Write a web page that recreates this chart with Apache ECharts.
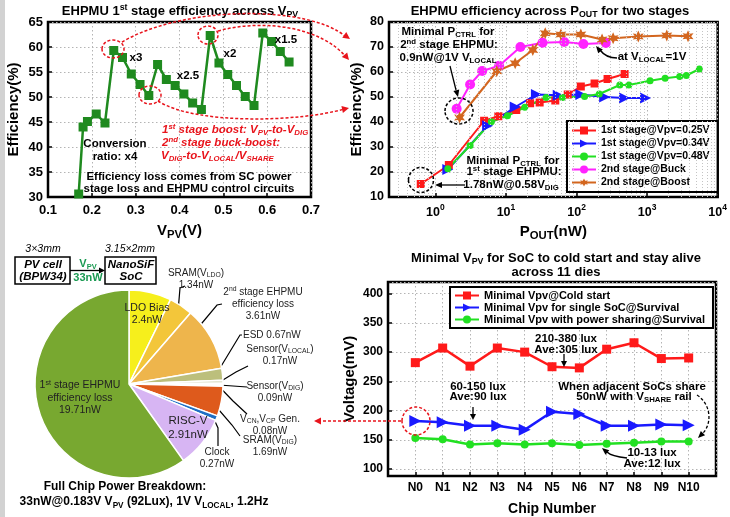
<!DOCTYPE html>
<html><head><meta charset="utf-8">
<script src="https://cdn.jsdelivr.net/npm/echarts@6/dist/echarts.min.js"></script>
<style>html,body{margin:0;padding:0;background:#fff}#c{width:730px;height:517px}</style>
</head><body><div id="c"></div>
<script>
// ---------------- DATA ----------------
// Panel 1: EHPMU 1st stage efficiency across VPV
const vpv  = [0.17,0.18,0.19,0.21,0.23,0.25,0.27,0.29,0.31,0.33,0.35,0.37,0.39,0.41,0.43,0.45,0.47,0.49,0.51,0.53,0.55,0.57,0.59,0.61,0.63,0.65];
const eff1 = [30.6,44,45.1,46.6,44.8,59.3,57.9,54.6,52.5,50.3,56.5,53.5,52.3,50.6,48.8,47.5,62.3,56.8,54.5,52.3,50.1,48.3,62.8,61.1,59.1,57];
const p1XTicks = [0.1,0.2,0.3,0.4,0.5,0.6,0.7];

// Panel 2: EHPMU efficiency across POUT
const pRed   = [0.62,1.55,4.9,7.8,14,22,30,50,75,115,180,275,480];
const eRed   = [15.2,22.8,40.5,42.3,44.8,47.5,47.8,48.6,51,54.2,55.4,57.2,59.2];
const pBlue  = [1.5,5.5,13.5,27,55,115,250,480,950];
const eBlue  = [21,38.5,46,51,50.7,51,50,49.6,49.6];
const pGreen = [1.5,3.1,6.2,10.5,18.5,37,63,130,210,410,550,1100,1800,2900,3600,5500];
const eGreen = [21.3,30.6,40.1,42.5,45.9,49.8,49.8,50.2,51.2,54.8,54.8,56.5,57.5,58.2,58.6,61.2];
const pBuck  = [2.0,3.1,4.6,8,16,33,67,125,260];
const eBuck  = [45.3,55,60.4,62.5,70,71.7,72,71.2,71.6];
const pBoost = [2.2,7.4,13.5,24,36,60,115,230,330,750,1900,3800];
const eBoost = [41.8,60.3,63.5,68.8,75.5,75,75,73,73.5,74.2,74.6,74.3];
const p2Names = ['1st stage@Vpv=0.25V','1st stage@Vpv=0.34V','1st stage@Vpv=0.48V','2nd stage@Buck','2nd stage@Boost'];

// Panel 3: power breakdown pie (nW)
const pieNames  = ['LDO Bias','SRAM(V{s|LDO})','2{p|nd} stage EHPMU\nefficiency loss','ESD','Sensor(V{s|LOCAL})','Sensor(V{s|DIG})','V{s|CN},V{s|CP} Gen.','SRAM(V{s|DIG})','Clock','RISC-V','1{p|st} stage EHPMU\nefficiency loss'];
const pieValues = [2.4,1.34,3.61,0.67,0.17,0.09,0.08,1.69,0.27,2.91,19.71];
const pieColors = ['#f6ef1c','#f3c63a','#eeb54c','#bcbf7c','#d9dcc4','#ececec','#f7f7f7','#de5a1c','#1e6fc4','#d7b5f3','#78a830'];

// Panel 4: minimal VPV across 11 dies
const chips      = ['N0','N1','N2','N3','N4','N5','N6','N7','N8','N9','N10'];
const coldStart  = [282,307,276,307,300,275,273,305,316,289,290];
const singleSoC  = [182,180,174,174,167,198,194,174,174,176,175];
const powerShare = [153,151,142,144,142,144,141,143,145,147,147];
const p4Names = ['Minimal Vpv@Cold start','Minimal Vpv for single SoC@Survival','Minimal Vpv with power sharing@Survival'];

// ---------------- HELPERS ----------------
const F = '"Liberation Sans", Arial, Helvetica, sans-serif';
function wrapPlain(s) {
  return s.split(/(\{[a-z]+\|[^}]*\})/).map(part => {
    if (!part) return '';
    if (/^\{[a-z]+\|/.test(part)) return part;
    return part.split('\n').map(l => l ? '{n|' + l + '}' : '').join('\n');
  }).join('');
}
function erich(size, color, weight, lh, ratio) {
  const sm = Math.round(size * (ratio || 0.68) * 10) / 10;
  return {
    n: {fontSize: size, fontWeight: weight, color, fontFamily: F, lineHeight: lh, verticalAlign: 'middle'},
    s: {fontSize: sm, fontWeight: weight, color, fontFamily: F, verticalAlign: 'bottom'},
    p: {fontSize: sm, fontWeight: weight, color, fontFamily: F, verticalAlign: 'top'}
  };
}
function T(x, y, s, o) {
  o = o || {};
  const size = o.size || 11.5, weight = o.weight || 'bold', color = o.color || '#000';
  const ital = o.italic ? 'italic ' : '';
  const small = Math.round(size * 0.68 * 10) / 10;
  const font = ital + weight + ' ' + size + 'px ' + F;
  const sfont = ital + weight + ' ' + small + 'px ' + F;
  return {type: 'text', x, y, silent: true, z: 100,
    style: {text: wrapPlain(s), font, fill: color, align: o.align || 'center', verticalAlign: 'middle',
      textAlign: o.align || 'center', textVerticalAlign: 'middle',
      rich: {n: {font, fill: color, verticalAlign: 'middle', lineHeight: size + 3},
             s: {font: sfont, fill: color, verticalAlign: 'bottom'},
             p: {font: sfont, fill: color, verticalAlign: 'top'}}}};
}
function L(points, color, w, dash) {
  return {type: 'polyline', silent: true, z: 100, shape: {points},
    style: {stroke: color || '#000', lineWidth: w || 1.3, fill: null, lineDash: dash || null}};
}
function B(x1, y1, c1x, c1y, c2x, c2y, x2, y2, color, w, dash) {
  return {type: 'bezierCurve', silent: true, z: 100,
    shape: {x1, y1, cpx1: c1x, cpy1: c1y, cpx2: c2x, cpy2: c2y, x2, y2},
    style: {stroke: color, lineWidth: w || 1.5, fill: null, lineDash: dash || null}};
}
function H(x, y, angDeg, color, len, wid) {
  const a = angDeg * Math.PI / 180, l = len || 7, w = wid || 3.5;
  const bx = x - l * Math.cos(a), by = y - l * Math.sin(a);
  const px = -Math.sin(a) * w, py = Math.cos(a) * w;
  return {type: 'polygon', silent: true, z: 100,
    shape: {points: [[x, y], [bx + px, by + py], [bx - px, by - py]]}, style: {fill: color}};
}
function E(cx, cy, rx, ry, color) {
  return {type: 'ellipse', silent: true, z: 100, shape: {cx, cy, rx, ry},
    style: {fill: null, stroke: color, lineWidth: 1.5, lineDash: [3, 2]}};
}
function R(x, y, w, h) {
  return {type: 'rect', silent: true, z: 100, shape: {x, y, width: w, height: h},
    style: {fill: null, stroke: '#000', lineWidth: 1.5}};
}
// 6-point star symbol
const starPts = [];
for (let k = 0; k < 12; k++) {
  const a = (-90 + k * 30) * Math.PI / 180, r = k % 2 ? 5 : 10;
  starPts.push((10 + r * Math.cos(a)).toFixed(2) + ' ' + (10 + r * Math.sin(a)).toFixed(2));
}
const STAR = 'path://M' + starPts.join(' L') + ' Z';

function axis(o) {
  const size = o.labelSize || 13;
  const base = {
    gridIndex: o.grid, type: o.type || 'value', min: o.min, max: o.max,
    axisLine: {show: true, onZero: false, lineStyle: {color: '#000', width: 2}},
    axisTick: {show: true, inside: true, length: 4, lineStyle: {color: '#000', width: 1.5}},
    axisLabel: {color: '#000', fontWeight: 'bold', fontSize: size, fontFamily: F, margin: o.margin || 6,
      rich: erich(size, '#000', 'bold', size + 6)},
    splitLine: {show: true, lineStyle: {color: '#b4b4b4', type: [1.5, 2.5], width: 1}},
    name: o.name, nameLocation: 'middle', nameGap: o.nameGap,
    nameTextStyle: {color: '#000', fontWeight: 'bold', fontSize: o.nameSize || 15, fontFamily: F,
      rich: erich(o.nameSize || 15, '#000', 'bold', 18, 0.75)}
  };
  if (o.interval != null) base.interval = o.interval;
  if (o.formatter) base.axisLabel.formatter = o.formatter;
  if (o.logBase) base.logBase = o.logBase;
  return base;
}

// minor log grid positions for panel 2
const minorX = [];
for (let d = -1; d <= 3; d++) for (let m = 2; m <= 9; m++) {
  const v = m * Math.pow(10, d);
  if (v > 0.22 && v < 10000) minorX.push({xAxis: v});
}

// pie label placement (layout, not data)
const pieLabelPos = [[147,314,'center'],[196,279,'center'],[263,304,'center'],[243,335,'left'],[280,355,'center'],
  [275,392,'center'],[270,425,'center'],[270,446,'center'],[217,458,'center'],[188,428,'center'],[80,398,'center']];
const pieLeaders = [null,[[178,312],[180,288],[185,286]],[[197,329],[217,305],[222,304]],[[217,373],[240,335],[242,335]],
  [[218,383],[236,372],[248,366]],[[219,385],[233,386],[247,387]],[[219,386.5],[233,401],[247,414]],
  [[213,403],[232,425],[240,436]],[[213,417],[218,428],[218,446]],null,null];
const pieInside = [true,false,false,false,false,false,false,false,false,true,true];

const pie = {
  type: 'pie', center: [129, 384], radius: 94, startAngle: 90, clockwise: true,
  avoidLabelOverlap: false, silent: true,
  itemStyle: {borderColor: '#fff', borderWidth: 1.5},
  label: {show: true, position: 'outside', color: '#222', fontSize: 10, fontFamily: F,
    formatter: p => wrapPlain(p.name + (p.name === 'ESD' ? ' ' : '\n') + p.value + 'nW'),
    rich: erich(10, '#222', 'normal', 12)},
  labelLine: {show: true, lineStyle: {color: '#000', width: 1.2}},
  labelLayout: params => {
    const i = params.dataIndex, p = pieLabelPos[i];
    const r = {x: p[0], y: p[1], align: p[2], verticalAlign: 'middle'};
    if (pieLeaders[i]) r.labelLinePoints = pieLeaders[i];
    return r;
  },
  data: pieNames.map((n, i) => {
    const d = {name: n, value: pieValues[i], itemStyle: {color: pieColors[i]}};
    if (pieInside[i]) {
      d.labelLine = {show: false};
      const sz = i === 9 ? 11.5 : 10.5;
      d.label = {fontSize: sz, rich: erich(sz, '#222', 'normal', sz + 2)};
    }
    return d;
  })
};

const RED = '#ff1a1a', BLUE = '#1a1aff', GRN = '#22e022', MAG = '#ff22ff', ORG = '#d3661f';
function xy(xs, ys) { return xs.map((x, i) => [x, ys[i]]); }

const series = [
  {type: 'line', xAxisIndex: 0, yAxisIndex: 0, data: xy(vpv, eff1), symbol: 'rect', symbolSize: 9,
   itemStyle: {color: '#1f8a1f'}, lineStyle: {color: '#1f8a1f', width: 2.5}},
  {type: 'line', name: p2Names[0], xAxisIndex: 1, yAxisIndex: 1, data: xy(pRed, eRed), symbol: 'rect', symbolSize: 8,
   itemStyle: {color: RED}, lineStyle: {color: RED, width: 2},
   markLine: {silent: true, symbol: 'none', label: {show: false}, animation: false,
     lineStyle: {color: '#c4c4c4', type: [1, 2], width: 1}, data: minorX}},
  {type: 'line', name: p2Names[1], xAxisIndex: 1, yAxisIndex: 1, data: xy(pBlue, eBlue), symbol: 'triangle', symbolSize: 11, symbolRotate: -90,
   itemStyle: {color: BLUE}, lineStyle: {color: BLUE, width: 2}},
  {type: 'line', name: p2Names[2], xAxisIndex: 1, yAxisIndex: 1, data: xy(pGreen, eGreen), symbol: 'circle', symbolSize: 7,
   itemStyle: {color: GRN}, lineStyle: {color: GRN, width: 2}},
  {type: 'line', name: p2Names[3], xAxisIndex: 1, yAxisIndex: 1, data: xy(pBuck, eBuck), symbol: 'circle', symbolSize: 10,
   itemStyle: {color: MAG}, lineStyle: {color: MAG, width: 2}},
  {type: 'line', name: p2Names[4], xAxisIndex: 1, yAxisIndex: 1, data: xy(pBoost, eBoost), symbol: STAR, symbolSize: [11, 12],
   itemStyle: {color: ORG}, lineStyle: {color: ORG, width: 2}},
  {type: 'line', name: p4Names[0], xAxisIndex: 2, yAxisIndex: 2, data: coldStart.map((v, i) => [i, v]), symbol: 'rect', symbolSize: 9,
   itemStyle: {color: RED}, lineStyle: {color: RED, width: 2.5}},
  {type: 'line', name: p4Names[1], xAxisIndex: 2, yAxisIndex: 2, data: singleSoC.map((v, i) => [i, v]), symbol: 'triangle', symbolSize: 12, symbolRotate: -90,
   itemStyle: {color: BLUE}, lineStyle: {color: BLUE, width: 2.5}},
  {type: 'line', name: p4Names[2], xAxisIndex: 2, yAxisIndex: 2, data: powerShare.map((v, i) => [i, v]), symbol: 'circle', symbolSize: 8,
   itemStyle: {color: GRN}, lineStyle: {color: GRN, width: 2.5}},
  pie
];

// ---------------- ANNOTATIONS ----------------
const RD = '#e8141c', TG = '#1a9a52';
const G = [
  {type: 'rect', silent: true, z: 1, shape: {x: 0, y: 0, width: 5, height: 517}, style: {fill: '#d2d2d2'}},
  // titles
  T(180, 11, 'EHPMU 1{p|st} stage efficiency across V{s|PV}', {size: 13}),
  T(550, 11, 'EHPMU efficiency across P{s|OUT} for two stages', {size: 13}),
  T(556, 258, 'Minimal V{s|PV} for SoC to cold start and stay alive', {size: 13}),
  T(556, 272, 'across 11 dies', {size: 13}),
  // panel 1
  T(136, 58, 'x3'), T(188, 76, 'x2.5'), T(230, 54, 'x2'), T(286, 40, 'x1.5'),
  T(115, 144, 'Conversion'), T(115, 157, 'ratio: x4'),
  T(162, 130, '1{p|st} stage boost: V{s|PV}-to-V{s|DIG}', {color: RD, italic: true, align: 'left'}),
  T(162, 143, '2{p|nd} stage buck-boost:', {color: RD, italic: true, align: 'left'}),
  T(161, 156, 'V{s|DIG}-to-V{s|LOCAL}/V{s|SHARE}', {color: RD, italic: true, align: 'left'}),
  T(189, 177, 'Efficiency loss comes from SC power'),
  T(189, 189, 'stage loss and EHPMU control circuits'),
  E(113, 49, 11, 9, RD), E(150, 95, 11, 9, RD), E(208, 35, 10, 9, RD),
  B(122, 42, 185, 5, 310, 5, 346, 37, RD, 1.5, [3, 2]), H(350, 39, 35, RD),
  B(218, 31, 265, 18, 322, 28, 346, 57, RD, 1.5, [3, 2]), H(349, 60, 50, RD),
  B(158, 101, 195, 125, 300, 122, 344, 109, RD, 1.5, [3, 2]), H(349, 108, -12, RD),
  // panel 2
  T(448, 32, 'Minimal P{s|CTRL} for'), T(449, 45, '2{p|nd} stage EHPMU:'), T(448, 58, '0.9nW@1V V{s|LOCAL}'),
  L([[450, 66], [456, 90]], '#000', 1.3), H(458, 97, 76, '#000', 7, 3),
  E(459, 111, 14, 13, '#000'),
  T(513, 161, 'Minimal P{s|CTRL} for'), T(514, 172, '1{p|st} stage EHPMU:'), T(511, 185, '1.78nW@0.58V{s|DIG}'),
  L([[465, 185], [442, 185]], '#000', 1.3), H(435, 185, 180, '#000', 7, 3),
  E(421, 180, 12.5, 12.5, '#000'),
  T(652, 57, 'at V{s|LOCAL}=1V'),
  B(617, 58, 608, 58, 603, 54, 600, 50, '#000', 1.5), H(596, 46, -130, '#000', 7, 3),
  // panel 3
  T(43, 249, '3×3mm', {weight: 'normal', italic: true, size: 10.5}),
  T(130, 249, '3.15×2mm', {weight: 'normal', italic: true, size: 10.5}),
  R(15, 257, 55, 27), R(105, 257, 51, 27),
  T(43, 265, 'PV cell', {italic: true}), T(43, 277, '(BPW34)', {italic: true}),
  T(131, 265, 'NanoSiF', {italic: true}), T(131, 277, 'SoC', {italic: true}),
  L([[70, 270.5], [100, 270.5]], '#000', 1.3), H(105, 270.5, 0, '#000', 6, 3),
  T(88, 264, 'V{s|PV}', {color: TG, size: 11}), T(88, 278, '33nW', {color: TG, size: 11}),
  T(125, 487, 'Full Chip Power Breakdown:', {size: 12}),
  T(144, 502, '33nW@0.183V V{s|PV} (92Lux), 1V V{s|LOCAL}, 1.2Hz', {size: 12}),
  // panel 4
  T(566, 339, '210-380 lux'), T(566, 350, 'Ave:305 lux'),
  L([[564, 354], [564, 361]], '#000', 1.3), H(564, 367, 90, '#000', 6, 3),
  T(478, 387, '60-150 lux'), T(478, 397, 'Ave:90 lux'),
  L([[473, 407], [473, 414]], '#000', 1.3), H(473, 420, 90, '#000', 6, 3),
  T(632, 387, 'When adjacent SoCs share'), T(634, 397, '50nW with V{s|SHARE} rail'),
  B(697, 395, 712, 405, 712, 425, 702, 434, '#000', 1.3, [3, 2]), H(698, 438, 135, '#000', 7, 3),
  T(652, 453, '10-13 lux'), T(652, 464, 'Ave:12 lux'),
  B(627, 458, 617, 457, 610, 455, 607, 452, '#000', 1.5), H(602, 448, -140, '#000', 7, 3),
  E(416, 421, 14, 14, RD),
  L([[401, 421], [320, 421]], RD, 1.5, [3, 2]), H(314, 421, 180, RD, 7, 3.5)
];

const option = {
  animation: false,
  textStyle: {fontFamily: F},
  grid: [
    {left: 48, top: 22, width: 263, height: 175, show: true, borderColor: '#000', borderWidth: 2.5, backgroundColor: 'transparent'},
    {left: 389, top: 22, width: 329, height: 175, show: true, borderColor: '#000', borderWidth: 2.5, backgroundColor: 'transparent'},
    {left: 388, top: 282, width: 328, height: 195, show: true, borderColor: '#000', borderWidth: 2.5, backgroundColor: 'transparent'}
  ],
  xAxis: [
    axis({grid: 0, min: 0.1, max: 0.7, interval: 0.1, name: '{n|V}{s|PV}{n|(V)}', nameGap: 25, margin: 7,
      formatter: v => v.toFixed(1)}),
    axis({grid: 1, type: 'log', logBase: 10, min: 0.22, max: 10000, name: '{n|P}{s|OUT}{n|(nW)}', nameGap: 26, margin: 6, labelSize: 12.5,
      formatter: v => { const l = Math.log10(v), r = Math.round(l); return Math.abs(l - r) < 1e-6 ? '{n|10}{p|' + r + '}' : ''; }}),
    axis({grid: 2, min: -1, max: 11, interval: 1, name: 'Chip Number', nameGap: 26, nameSize: 14, labelSize: 12, margin: 6,
      formatter: v => (v >= 0 && v < chips.length) ? chips[v] : ''})
  ],
  yAxis: [
    axis({grid: 0, min: 30, max: 65, interval: 5, name: 'Efficiency(%)', nameGap: 27, margin: 5}),
    axis({grid: 1, min: 10, max: 80, interval: 10, name: 'Efficiency(%)', nameGap: 25, labelSize: 12.5, margin: 5}),
    axis({grid: 2, min: 88, max: 420, name: 'Voltage(mV)', nameGap: 31, labelSize: 12, margin: 5,
      formatter: v => (Math.abs(v % 50) < 1e-6 ? String(v) : '')})
  ],
  legend: [
    {data: p2Names, orient: 'vertical', left: 567, top: 121, backgroundColor: '#fff', borderColor: '#000', borderWidth: 2,
     padding: [4, 8, 4, 4], itemGap: 2, itemWidth: 24, itemHeight: 10, selectedMode: false,
     textStyle: {fontWeight: 'bold', fontSize: 10.5, color: '#000', fontFamily: F}},
    {data: p4Names, orient: 'vertical', left: 450, top: 287, backgroundColor: '#fff', borderColor: '#000', borderWidth: 2,
     padding: [3, 8, 3, 4], itemGap: 1, itemWidth: 24, itemHeight: 10, selectedMode: false,
     textStyle: {fontWeight: 'bold', fontSize: 11, color: '#000', fontFamily: F}}
  ],
  series,
  graphic: G
};
const chart = echarts.init(document.getElementById('c'), null, {renderer: 'canvas'});
chart.setOption(option);
</script></body></html>
